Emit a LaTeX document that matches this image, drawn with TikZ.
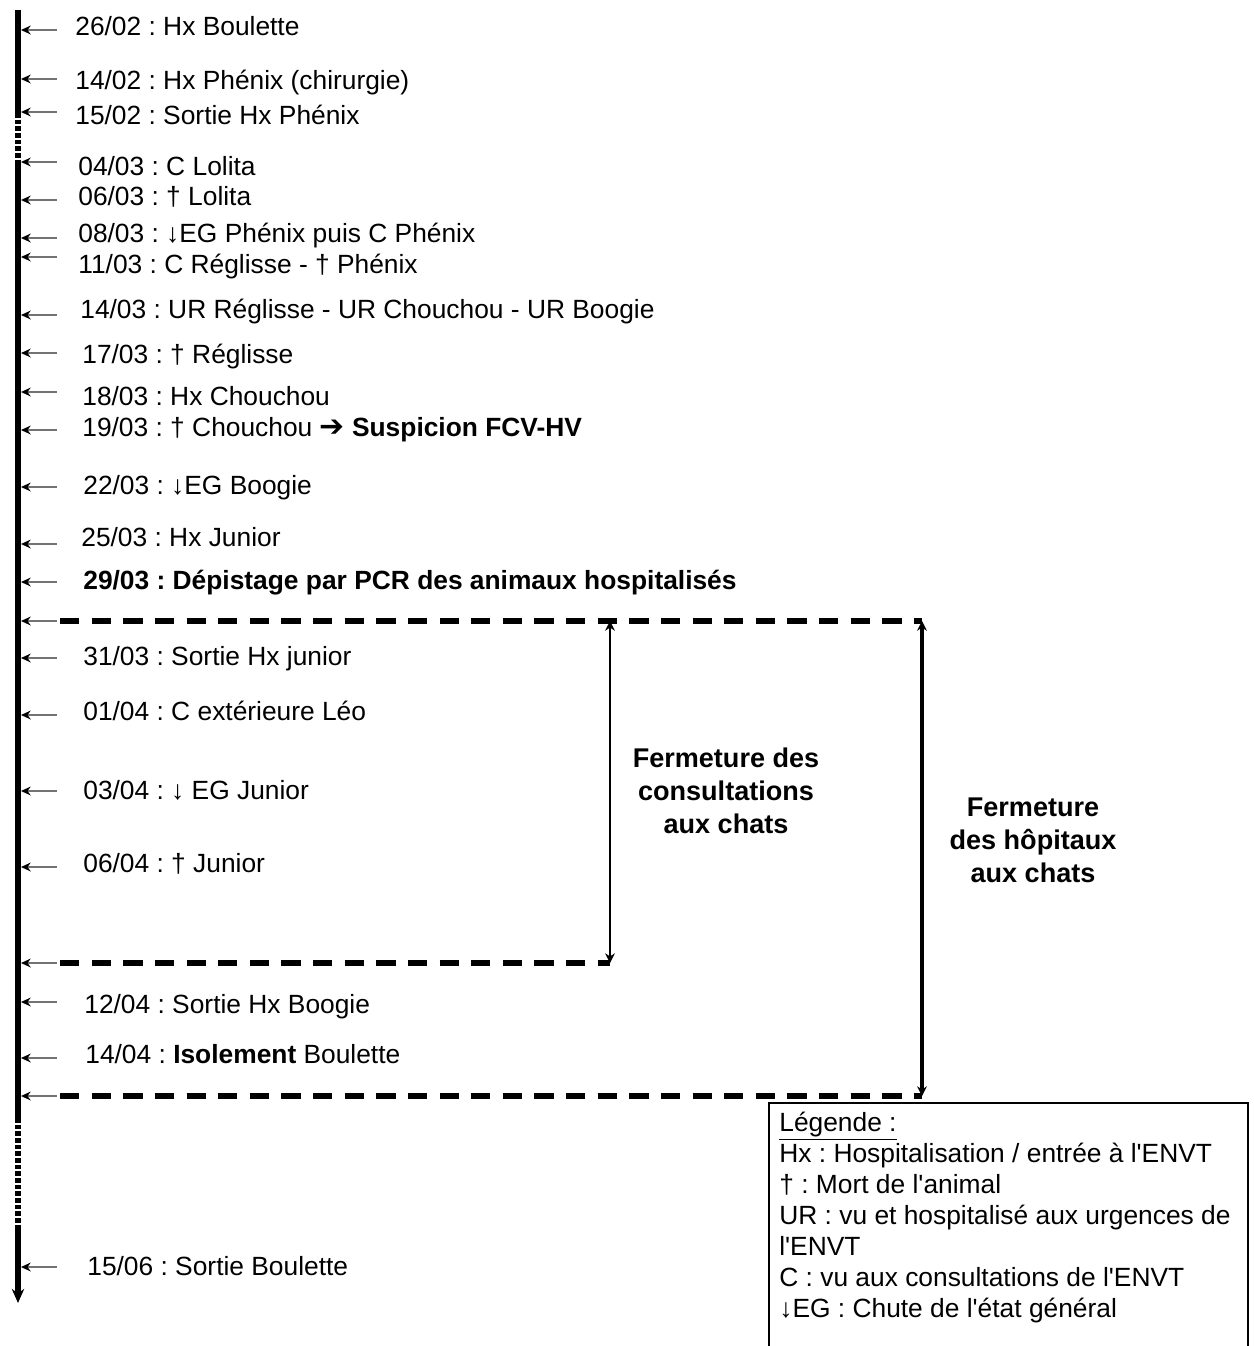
\documentclass[tikz,border=0pt]{standalone}
\usepackage{fontspec}
\setmainfont{Liberation Sans}
\newfontfamily\arrowfont{DejaVu Sans}
\usepackage{tikz}
\usetikzlibrary{arrows.meta,calc,positioning}
\frenchspacing
\newcommand{\apos}{\textquotesingle}
\tikzset{
  event/.style={anchor=west, inner sep=0pt, yshift=-1.5pt, text height=0.716em, text depth=0pt, font=\fontsize{15}{17.6}\selectfont},
  tick/.style={-{Stealth[length=5.5pt,width=5pt,color=black]}, line width=1pt, draw=black!55},
  axis/.style={line width=2.9pt},
  gapline/.style={line width=2.9pt, dash pattern=on 2.6pt off 1.2pt},
  closing/.style={line width=3.1pt, dash pattern=on 11pt off 7pt},
  period/.style={{Stealth[length=5.5pt,width=5.5pt]}-{Stealth[length=5.5pt,width=5.5pt]}, line width=0.9pt},
  title/.style={align=center, inner sep=0pt, font=\fontsize{15.4}{18.8}\selectfont\bfseries},
  legend/.style={anchor=north west, align=left, inner sep=0pt, font=\fontsize{15}{17.6}\selectfont}
}

\begin{document}
\begin{tikzpicture}[x=0.02cm, y=-0.02cm]
    \useasboundingbox (0,0) rectangle (1254,1346);

    % time axis
    \coordinate (top) at (18,10);
    \coordinate (g1a) at (18,113);
    \coordinate (g1b) at (18,162);
    \coordinate (g2a) at (18,1118);
    \coordinate (g2b) at (18,1228);
    \coordinate (bot) at (18,1303);
    \draw[axis] (top) -- (g1a);
    \draw[gapline] (g1a) -- (g1b);
    \draw[axis] (g1b) -- (g2a);
    \draw[gapline] (g2a) -- (g2b);
    \draw[axis, -{Stealth[length=8pt,width=7pt]}] (g2b) -- (bot);

    % small arrows to the axis
    \foreach \y [count=\i] in {30,79,112,162,200,238,257,315,353,392,430,487,544,582,621,658,715,791,867,963,1002,1058,1096,1267} {
        \coordinate (s\i) at (57,\y);
        \coordinate (e\i) at (21,\y);
        \draw[tick] (s\i) -- (e\i);
    }

    \node[event] at (75,27) (d2602) {26/02 : Hx Boulette};
    \node[event] at (75,81) (d1402) {14/02 : Hx Phénix (chirurgie)};
    \node[event] at (75,116) (d1502) {15/02 : Sortie Hx Phénix};
    \node[event] at (78,167) (d0403) {04/03 : C Lolita};
    \node[event] at (78,197) (d0603) {06/03 : † Lolita};
    \node[event] at (78,234) (d0803) {08/03 : ↓EG Phénix puis C Phénix};
    \node[event] at (78,265) (d1103) {11/03 : C Réglisse - † Phénix};
    \node[event] at (80,310) (d1403) {14/03 : UR Réglisse - UR Chouchou - UR Boogie};
    \node[event] at (82,355) (d1703) {17/03 : † Réglisse};
    \node[event] at (82,397) (d1803) {18/03 : Hx Chouchou};
    \node[event] at (82,428) (d1903) {19/03 : † Chouchou {\arrowfont\fontsize{17}{17}\selectfont ➔} \textbf{Suspicion FCV-HV}};
    \node[event] at (83,486) (d2203) {22/03 : ↓EG Boogie};
    \node[event] at (81,538) (d2503) {25/03 : Hx Junior};
    \node[event] at (83,581) (d2903) {\textbf{29/03 : Dépistage par PCR des animaux hospitalisés}};
    \node[event] at (83,657) (d3103) {31/03 : Sortie Hx junior};
    \node[event] at (83,712) (d0104) {01/04 : C extérieure Léo};
    \node[event] at (83,791) (d0304) {03/04 : ↓ EG Junior};
    \node[event] at (83,864) (d0604) {06/04 : † Junior};
    \node[event] at (84,1005) (d1204) {12/04 : Sortie Hx Boogie};
    \node[event] at (85,1055) (d1404) {14/04 : \textbf{Isolement} Boulette};
    \node[event] at (87,1267) (d1506) {15/06 : Sortie Boulette};

    % closing periods
    \coordinate (k1a) at (60,621);
    \coordinate (k1b) at (922,621);
    \coordinate (k2t) at (610,621);
    \coordinate (k2a) at (60,963);
    \coordinate (k2b) at (610,963);
    \coordinate (k3a) at (60,1096);
    \coordinate (k3b) at (922,1096);
    \draw[closing] (k1a) -- (k1b);
    \draw[closing] (k2a) -- (k2b);
    \draw[closing] (k3a) -- (k3b);
    \draw[period] (k2t) -- (k2b);
    \draw[period, line width=2pt] (k1b) -- (k3b);
    \node[title] at (726,791) (consult) {Fermeture des\\consultations\\aux chats};
    \node[title] at (1033,840) (hopital) {Fermeture\\des hôpitaux\\aux chats};

    % legend
    \coordinate (lgA) at (769,1103);
    \coordinate (lgB) at (1248,1360);
    \draw[line width=1.1pt] (lgA) rectangle (lgB);
    \node[legend] at (779,1112) (leg) {\underline{Légende :}\\
        Hx : Hospitalisation / entrée à l\apos ENVT\\
        † : Mort de l\apos animal\\
        UR : vu et hospitalisé aux urgences de\\
        l\apos ENVT\\
        C : vu aux consultations de l\apos ENVT\\
        ↓EG : Chute de l\apos état général};
\end{tikzpicture}
\end{document}
